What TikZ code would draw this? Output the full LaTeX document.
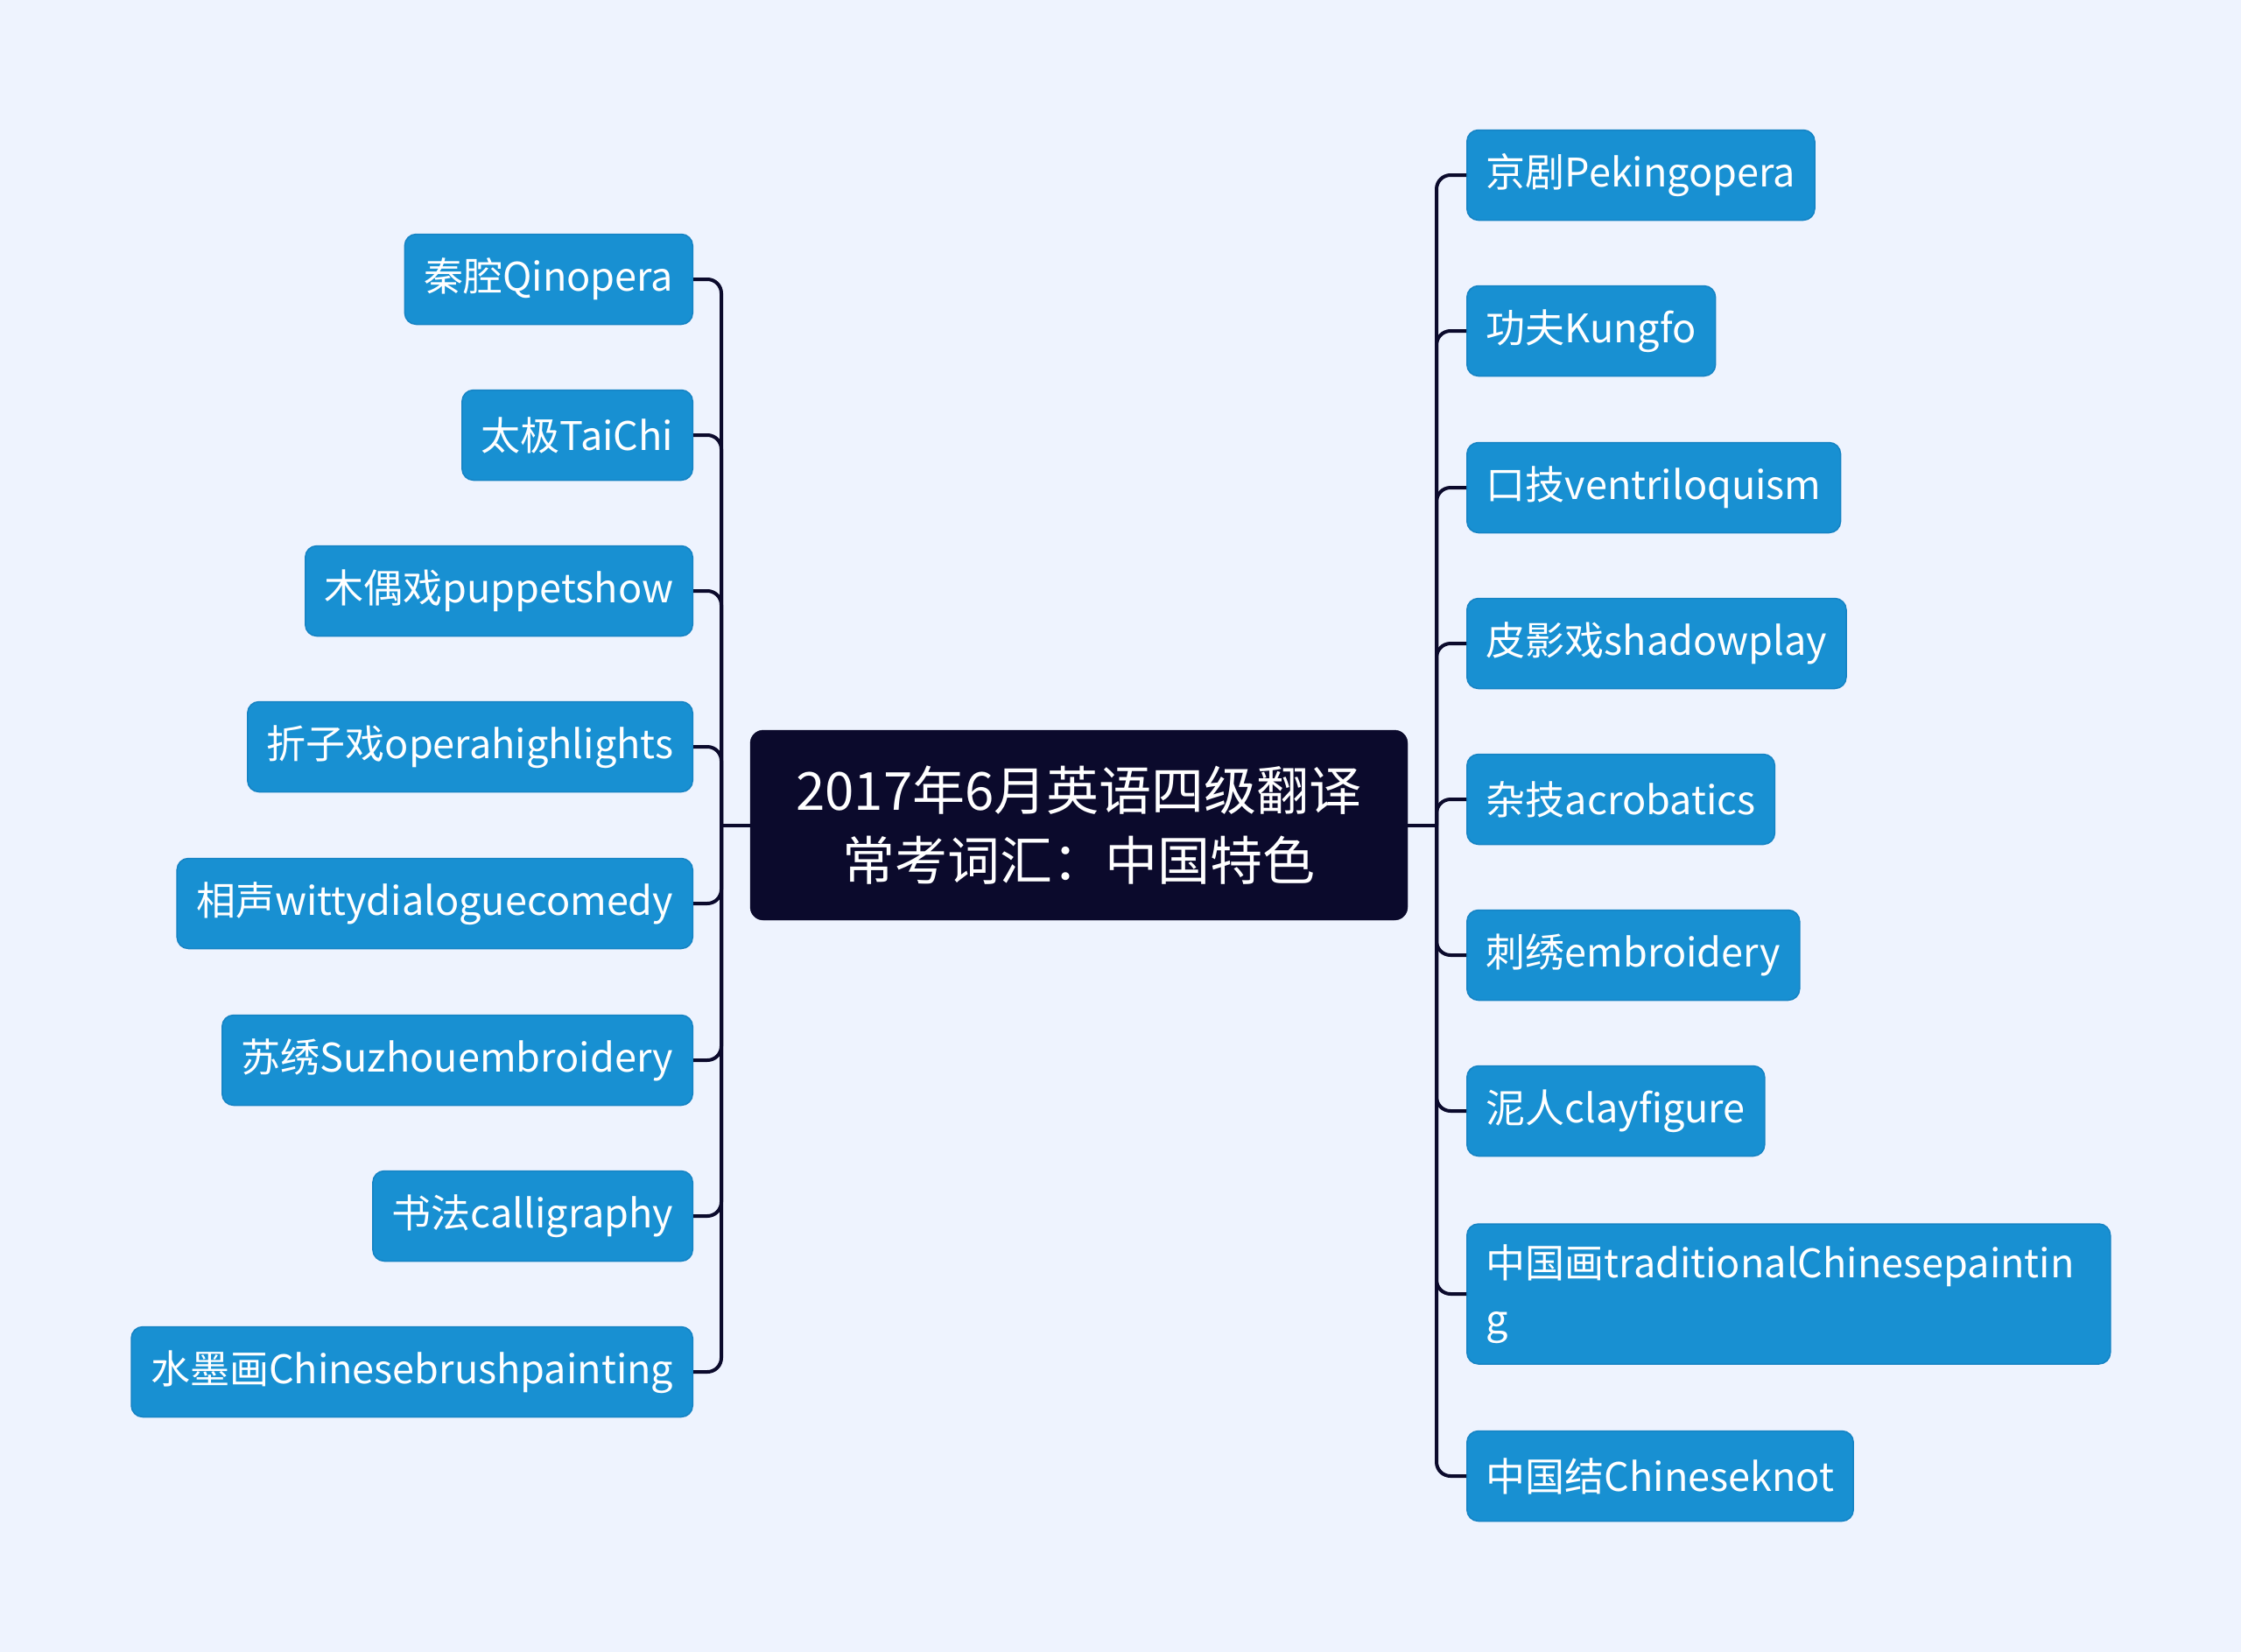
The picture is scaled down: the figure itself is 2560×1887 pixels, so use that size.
\documentclass[tikz,border=0pt]{standalone}
\usepackage{fontspec}
\setmainfont{Noto Sans CJK SC}
\definecolor{bg}{HTML}{EEF3FE}
\definecolor{leaf}{HTML}{1890D2}
\definecolor{leafb}{HTML}{1583C4}
\definecolor{rootc}{HTML}{0B0A2C}
\definecolor{linec}{HTML}{0B0A2C}
\begin{document}
\begin{tikzpicture}[x=1pt,y=-1pt,
  leaf/.style={draw=leafb, line width=1.5pt, fill=leaf, rounded corners=13pt, text=white,
    font=\fontsize{45}{64}\selectfont, minimum height=103pt, inner xsep=22pt, inner ysep=0pt},
  lleaf/.style={leaf, anchor=east},
  rleaf/.style={leaf, anchor=west},
  rootbox/.style={fill=rootc, draw=rootc, rounded corners=15pt, text=white, align=center,
    font=\fontsize{60}{80}\selectfont, minimum width=751pt, minimum height=217pt, inner sep=0pt},
  conn/.style={draw=linec, line width=4pt, rounded corners=16pt},
  trunk/.style={draw=linec, line width=4pt}]
\fill[bg] (0,0) rectangle (2560,1887);
\useasboundingbox (0,0) rectangle (2560,1887);

\node[rootbox] (root) at (1232.5,942.5) {2017年6月英语四级翻译\\常考词汇：中国特色};

\coordinate (lt) at (824,942.5);
\coordinate (rt) at (1641,942.5);

% left
\node[lleaf] (l1) at (792,319) {秦腔Qinopera};
\node[lleaf] (l2) at (792,497) {太极TaiChi};
\node[lleaf] (l3) at (792,675) {木偶戏puppetshow};
\node[lleaf] (l4) at (792,853) {折子戏operahighlights};
\node[lleaf] (l5) at (792,1032) {相声wittydialoguecomedy};
\node[lleaf] (l6) at (792,1211) {苏绣Suzhouembroidery};
\node[lleaf] (l7) at (792,1389) {书法calligraphy};
\node[lleaf] (l8) at (792,1567) {水墨画Chinesebrushpainting};

% right
\node[rleaf] (r1) at (1675,200) {京剧Pekingopera};
\node[rleaf] (r2) at (1675,378) {功夫Kungfo};
\node[rleaf] (r3) at (1675,557) {口技ventriloquism};
\node[rleaf] (r4) at (1675,735) {皮影戏shadowplay};
\node[rleaf] (r5) at (1675,913) {杂技acrobatics};
\node[rleaf] (r6) at (1675,1091) {刺绣embroidery};
\node[rleaf] (r7) at (1675,1269) {泥人clayfigure};
\node[rleaf, text width=691pt, align=left, minimum height=160pt] (r8) at (1675,1478) {中国画traditionalChinesepaintin\\g};
\node[rleaf] (r9) at (1675,1686) {中国结Chineseknot};

\draw[trunk] (root.west) -- (lt);
\draw[trunk] (root.east) -- (rt);
\foreach \n in {l1,l2,l3,l4,l5,l6,l7,l8} {
  \draw[conn] (lt) |- (\n.east);
}
\foreach \n in {r1,r2,r3,r4,r5,r6,r7,r8,r9} {
  \draw[conn] (rt) |- (\n.west);
}
\end{tikzpicture}
\end{document}
